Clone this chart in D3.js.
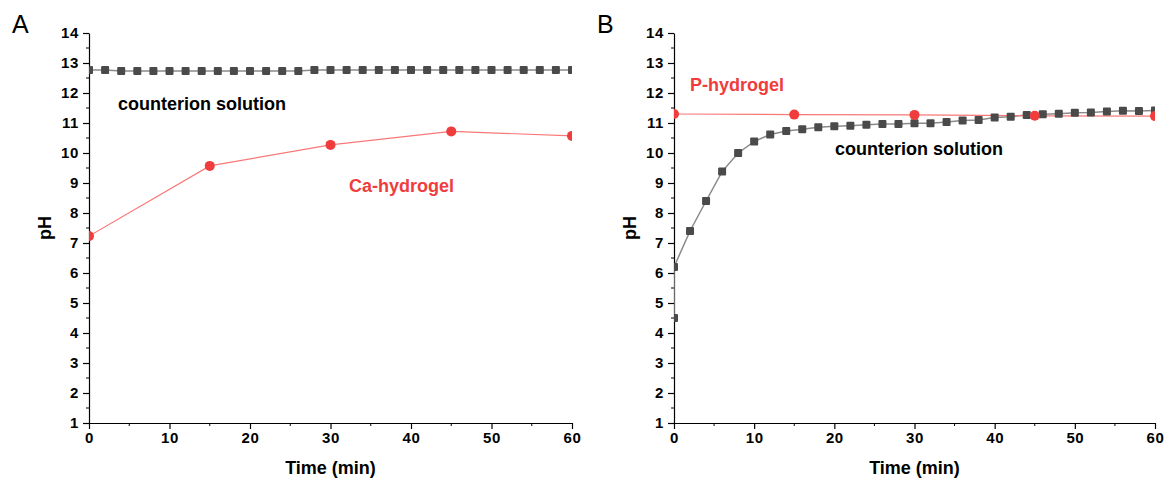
<!DOCTYPE html>
<html>
<head>
<meta charset="utf-8">
<script src="https://cdn.jsdelivr.net/npm/d3@7"></script>
<style>
  body { margin: 0; background: #fff; }
  text { font-family: Arial, "Liberation Sans", sans-serif; }
</style>
</head>
<body>
<script>
// panel A
var timeA = [0, 2, 4, 6, 8, 10, 12, 14, 16, 18, 20, 22, 24, 26, 28, 30,
  32, 34, 36, 38, 40, 42, 44, 46, 48, 50, 52, 54, 56, 58, 60];
var counterA = [12.77, 12.77, 12.73, 12.73, 12.73, 12.73, 12.73, 12.73, 12.73, 12.73,
  12.73, 12.73, 12.73, 12.73, 12.77, 12.77, 12.77, 12.77, 12.77, 12.77, 12.77, 12.77,
  12.77, 12.77, 12.77, 12.77, 12.77, 12.77, 12.77, 12.77, 12.77];
var gelTime = [0, 15, 30, 45, 60];
var caGel = [7.23, 9.57, 10.27, 10.72, 10.57];

// panel B
var timeB = [0, 0, 2, 4, 6, 8, 10, 12, 14, 16, 18, 20, 22, 24, 26, 28, 30,
  32, 34, 36, 38, 40, 42, 44, 46, 48, 50, 52, 54, 56, 58, 60];
var counterB = [4.5, 6.2, 7.4, 8.4, 9.38, 10.0, 10.38, 10.62, 10.73, 10.79, 10.86,
  10.89, 10.91, 10.94, 10.97, 10.97, 10.99, 10.99, 11.03, 11.08, 11.1, 11.18, 11.21,
  11.27, 11.29, 11.31, 11.34, 11.35, 11.38, 11.41, 11.4, 11.42];
var pGel = [11.3, 11.28, 11.27, 11.24, 11.23];

var xTicks = [0, 10, 20, 30, 40, 50, 60];
var yTicks = [1, 2, 3, 4, 5, 6, 7, 8, 9, 10, 11, 12, 13, 14];

var W = 1167, H = 483;
var svg = d3.select('body').append('svg')
  .attr('width', W)
  .attr('height', H);

var darkGrey = '#4a4a4a', lineGrey = '#8a8a8a';
var red = '#f03c3c', lineRed = '#f87878';

function panel(opts) {
  var x = d3.scaleLinear().domain([0, 60]).range([opts.left, opts.right]);
  var y = d3.scaleLinear().domain([1, 14]).range([423, 33]);
  var g = svg.append('g');

  g.append('text')
    .text(opts.letter)
    .attr('x', opts.letterX)
    .attr('y', 33)
    .attr('font-size', 25)
    .attr('fill', '#000');

  // minor ticks
  var yMinor = d3.range(1.5, 14, 1);
  g.append('g').selectAll('line').data(yMinor).enter().append('line')
    .attr('x1', x(0) - 3).attr('x2', x(0))
    .attr('y1', d => y(d)).attr('y2', d => y(d))
    .attr('stroke', '#000').attr('stroke-width', 1);
  var xMinor = [5, 15, 25, 35, 45, 55];
  g.append('g').selectAll('line').data(xMinor).enter().append('line')
    .attr('x1', d => x(d)).attr('x2', d => x(d))
    .attr('y1', y(1)).attr('y2', y(1) + 3)
    .attr('stroke', '#000').attr('stroke-width', 1);

  var yAxis = d3.axisLeft(y).tickValues(yTicks).tickSize(6).tickSizeOuter(0);
  var xAxis = d3.axisBottom(x).tickValues(xTicks).tickSize(6).tickSizeOuter(0);

  var ya = g.append('g').attr('transform', 'translate(' + x(0) + ',0)').call(yAxis);
  var xa = g.append('g').attr('transform', 'translate(0,' + y(1) + ')').call(xAxis);
  [ya, xa].forEach(function (a) {
    a.select('.domain').attr('stroke', '#000').attr('stroke-width', 1.2);
    a.selectAll('.tick line').attr('stroke', '#000').attr('stroke-width', 1.2);
    a.selectAll('.tick text')
      .attr('font-size', 15)
      .attr('font-weight', 'bold')
      .attr('letter-spacing', 0.6)
      .attr('font-family', 'Arial, "Liberation Sans", sans-serif')
      .attr('fill', '#000');
  });
  ya.selectAll('.tick text').attr('x', -10);
  xa.selectAll('.tick text').attr('y', 9);

  g.append('text')
    .text('Time (min)')
    .attr('x', (opts.left + opts.right) / 2)
    .attr('y', 474)
    .attr('text-anchor', 'middle')
    .attr('font-size', 18)
    .attr('font-weight', 'bold');

  g.append('text')
    .text('pH')
    .attr('transform', 'translate(' + (opts.left - 38) + ',228) rotate(-90)')
    .attr('text-anchor', 'middle')
    .attr('font-size', 18)
    .attr('font-weight', 'bold');

  var clipId = 'clip' + opts.letter;
  svg.append('clipPath').attr('id', clipId)
    .append('rect')
    .attr('x', opts.left).attr('y', 20)
    .attr('width', opts.right - opts.left).attr('height', y(1) - 20);
  var plot = g.append('g').attr('clip-path', 'url(#' + clipId + ')');

  var line = d3.line().x(d => x(d[0])).y(d => y(d[1]));

  var sq = d3.zip(opts.sqTime, opts.sqVals);
  plot.append('path')
    .datum(sq)
    .attr('d', line)
    .attr('fill', 'none')
    .attr('stroke', lineGrey)
    .attr('stroke-width', 1.5);
  var gel = d3.zip(gelTime, opts.gel);
  plot.append('path')
    .datum(gel)
    .attr('d', line)
    .attr('fill', 'none')
    .attr('stroke', lineRed)
    .attr('stroke-width', 1.2);

  var s = 8;
  plot.selectAll('rect.sq').data(sq).enter().append('rect')
    .attr('class', 'sq')
    .attr('x', d => x(d[0]) - s / 2)
    .attr('y', d => y(d[1]) - s / 2)
    .attr('width', s).attr('height', s)
    .attr('rx', 1)
    .attr('fill', darkGrey);

  plot.selectAll('circle').data(gel).enter().append('circle')
    .attr('cx', d => x(d[0]))
    .attr('cy', d => y(d[1]))
    .attr('r', 5)
    .attr('fill', red);

  opts.labels.forEach(function (l) {
    g.append('text')
      .text(l.text)
      .attr('x', l.x)
      .attr('y', l.y)
      .attr('font-size', 18)
      .attr('font-weight', 'bold')
      .attr('fill', l.color);
  });
}

panel({
  letter: 'A', letterX: 12, left: 89, right: 572,
  sqTime: timeA, sqVals: counterA, gel: caGel,
  labels: [
    { text: 'counterion solution', x: 118, y: 110, color: '#000' },
    { text: 'Ca-hydrogel', x: 349, y: 192, color: red }
  ]
});

panel({
  letter: 'B', letterX: 597, left: 674, right: 1155,
  sqTime: timeB, sqVals: counterB, gel: pGel,
  labels: [
    { text: 'P-hydrogel', x: 690, y: 91, color: red },
    { text: 'counterion solution', x: 835, y: 155, color: '#000' }
  ]
});
</script>
</body>
</html>
